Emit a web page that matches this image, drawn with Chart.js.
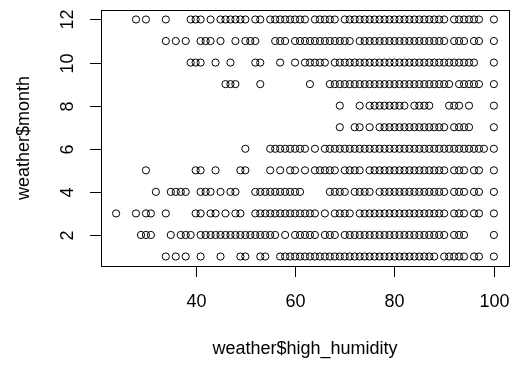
<!DOCTYPE html>
<html>
<head>
<meta charset="utf-8">
<script src="https://cdn.jsdelivr.net/npm/chart.js@4/dist/chart.umd.min.js"></script>
<style>
  html, body { margin: 0; padding: 0; background: #fff; }
</style>
</head>
<body>
<canvas id="weather-chart" width="515" height="374"></canvas>
<script>
const months = [1, 2, 3, 4, 5, 6, 7, 8, 9, 10, 11, 12];

// high_humidity readings seen for each month
const jan = [34,36,38,41,45,49,50,53,54,57,58,59,60,61,62,63,64,65,66,67,68,69,70,71,72,73,74,75,76,77,78,79,80,81,82,83,84,85,86,87,88,90,91,92,93,94,96,97,100];
const feb = [29,30,31,35,37,38,39,41,42,43,44,45,46,47,48,49,50,51,52,53,54,55,56,58,60,61,62,63,64,66,67,68,70,71,72,73,74,75,76,77,78,79,80,81,82,83,84,85,86,87,88,89,90,92,93,94,100];
const mar = [24,28,30,31,34,40,41,43,44,46,48,49,52,53,54,55,56,57,58,59,60,61,62,63,64,66,68,69,70,71,73,74,75,76,77,78,79,80,81,82,83,84,85,86,87,88,89,90,92,93,94,96,97,100];
const apr = [32,35,36,37,38,41,42,43,45,47,48,52,53,54,55,56,57,58,59,60,61,67,68,69,70,72,73,74,75,77,78,79,80,81,82,83,84,85,86,87,88,89,90,92,93,94,96,97,100];
const may = [30,40,41,44,49,50,55,57,59,60,62,64,65,66,67,68,70,71,72,73,75,76,77,78,79,80,81,82,83,84,85,86,87,88,89,90,92,93,94,96,97,100];
const jun = [50,55,56,57,58,59,60,61,62,64,66,67,68,69,70,71,72,73,74,75,76,77,78,79,80,81,82,83,84,85,86,87,88,89,90,91,92,93,94,95,96,97,98,100];
const jul = [69,72,73,75,77,78,79,80,81,82,83,84,85,86,87,88,89,90,92,93,94,95,100];
const aug = [69,73,75,76,77,78,79,80,81,82,84,85,86,87,91,92,93,95,100];
const sep = [46,47,48,53,63,67,68,69,70,71,72,73,74,75,76,77,78,79,80,81,82,83,84,85,86,87,88,89,90,91,93,94,95,96,97,100];
const oct = [39,40,41,44,47,52,53,57,60,62,63,64,65,66,68,69,70,71,72,73,74,75,76,77,78,79,80,81,82,83,84,85,86,87,88,89,90,91,92,93,94,95,96,100];
const nov = [34,36,38,41,42,43,45,48,50,51,52,56,57,58,60,61,62,63,64,65,66,67,68,69,70,71,73,74,75,76,77,78,79,80,81,82,83,84,85,86,87,88,89,90,92,93,94,96,97,100];
const dec = [28,30,34,39,40,41,43,45,46,47,48,49,50,52,53,55,56,57,58,59,60,61,62,64,65,66,67,68,70,71,72,73,74,75,76,77,78,79,80,81,82,83,84,85,86,87,88,89,90,92,93,94,95,96,97,100];

const humidityByMonth = [jan, feb, mar, apr, may, jun, jul, aug, sep, oct, nov, dec];

const xTicks = [40, 60, 80, 100];
const yTicks = [2, 4, 6, 8, 10, 12];
const xTitle = "weather$high_humidity";
const yTitle = "weather$month";

const FONT = '18px "Liberation Sans", Arial, sans-serif';

const buildPoints = () => {
  const points = [];
  months.forEach((month, i) => {
    for (const h of humidityByMonth[i]) {
      points.push({ x: h, y: month });
    }
  });
  return points;
};

// R style box, ticks and labels
const baseAxes = {
  id: "baseAxes",
  afterDraw(chart) {
    const { ctx, chartArea: a } = chart;
    const xs = chart.scales.x;
    const ys = chart.scales.y;
    ctx.save();
    ctx.strokeStyle = "#000";
    ctx.fillStyle = "#000";
    ctx.lineWidth = 1;
    ctx.strokeRect(a.left + 0.5, a.top + 0.5, a.right - a.left, a.bottom - a.top);

    ctx.font = FONT;
    ctx.textAlign = "center";
    ctx.textBaseline = "alphabetic";

    for (const t of xTicks) {
      const px = Math.round(xs.getPixelForValue(t)) + 0.5;
      ctx.beginPath();
      ctx.moveTo(px, a.bottom);
      ctx.lineTo(px, a.bottom + 11);
      ctx.stroke();
      ctx.fillText(String(t), px, 307);
    }

    for (const t of yTicks) {
      const py = Math.round(ys.getPixelForValue(t)) + 0.5;
      ctx.beginPath();
      ctx.moveTo(a.left, py);
      ctx.lineTo(a.left - 11, py);
      ctx.stroke();
      ctx.save();
      ctx.translate(73, py);
      ctx.rotate(-Math.PI / 2);
      ctx.fillText(String(t), 0, 0);
      ctx.restore();
    }

    ctx.fillText(xTitle, (a.left + a.right) / 2, 354);

    ctx.save();
    ctx.translate(29, (a.top + a.bottom) / 2);
    ctx.rotate(-Math.PI / 2);
    ctx.fillText(yTitle, 0, 0);
    ctx.restore();

    ctx.restore();
  },
};

const renderChart = () => {
  const canvas = document.querySelector("#weather-chart");
  new Chart(canvas, {
    type: "scatter",
    data: {
      datasets: [
        {
          data: buildPoints(),
          pointStyle: "circle",
          pointRadius: 3.6,
          pointHoverRadius: 3.6,
          borderWidth: 1,
          borderColor: "#000",
          backgroundColor: "rgba(0,0,0,0)",
        },
      ],
    },
    options: {
      responsive: false,
      animation: false,
      devicePixelRatio: 1,
      events: [],
      layout: { padding: { left: 101, right: 6, top: 10, bottom: 108 } },
      plugins: { legend: { display: false }, tooltip: { enabled: false } },
      scales: {
        x: { type: "linear", display: false, min: 20.96, max: 103.04 },
        y: { type: "linear", display: false, min: 0.56, max: 12.44 },
      },
    },
    plugins: [baseAxes],
  });
};

renderChart();
</script>
</body>
</html>
